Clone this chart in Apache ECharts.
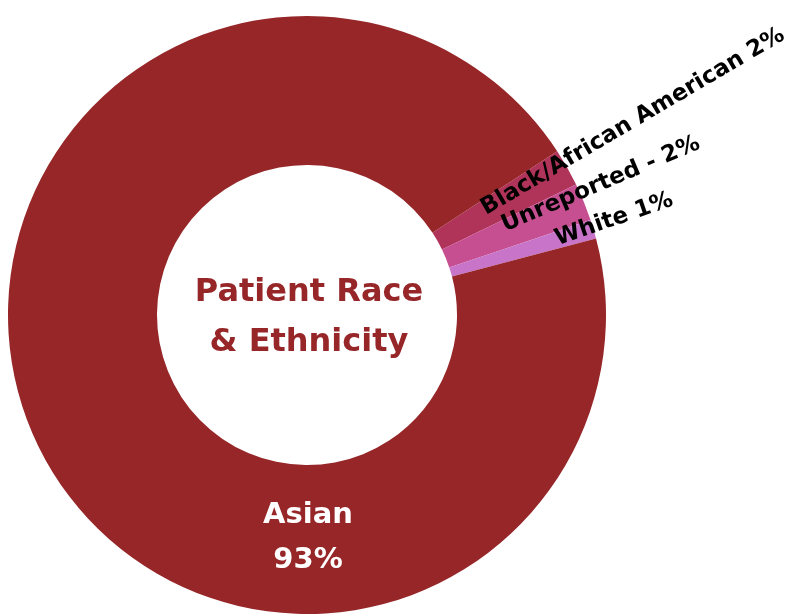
<!DOCTYPE html>
<html>
<head>
<meta charset="utf-8">
<script src="https://cdn.jsdelivr.net/npm/echarts@6/dist/echarts.min.js"></script>
<style>
html,body{margin:0;padding:0;background:#fff;}
#chart{width:804px;height:614px;}
</style>
</head>
<body>
<div id="chart"></div>
<script>
// ---- data ----
const categories = ['Black/African American', 'Unreported', 'White', 'Asian'];
const values = [2, 2, 1, 93];
const labelTexts = ['Black/African American 2%', 'Unreported - 2%', 'White 1%', 'Asian\n93%'];
const centerTitle = ['Patient Race', '& Ethnicity'];

// ---- styles / layout ----
const colors = ['#b0335a', '#c64f92', '#c874c9', '#962628'];
const FONT = '"DejaVu Sans", Inter, sans-serif';
const CX = 307, CY = 315, R_IN = 150, R_OUT = 299;
const START = 33.2;
// per-label placement for the small slices: radius, angle shift from slice mid, rotation
const labelPlace = [
  { r: 205, da: 1.3, rot: 30.5 },
  { r: 215, da: 2.3, rot: 23 },
  { r: 260, da: 0.2, rot: 19 }
];
const asianLabelPos = { x: 308, y: 538 };

const total = values.reduce((a, b) => a + b, 0);
function midAngle(i) {
  let acc = 0;
  for (let k = 0; k < i; k++) acc += values[k];
  return START - (acc + values[i] / 2) / total * 360;
}

const chart = echarts.init(document.getElementById('chart'));
chart.setOption({
  backgroundColor: '#ffffff',
  animation: false,
  graphic: [{
    type: 'text',
    x: CX + 2, y: CY + 3,
    style: {
      text: centerTitle.join('\n'),
      align: 'center', verticalAlign: 'middle',
      textAlign: 'center', textVerticalAlign: 'middle',
      fill: '#962628',
      font: 'bold 32px ' + FONT,
      lineHeight: 50
    }
  }],
  series: [{
    type: 'pie',
    center: [CX, CY],
    radius: [R_IN, R_OUT],
    startAngle: START,
    clockwise: true,
    avoidLabelOverlap: false,
    silent: true,
    labelLine: { show: false },
    data: categories.map((c, i) => ({
      name: c,
      value: values[i],
      itemStyle: { color: colors[i] },
      label: {
        show: true,
        position: 'inside',
        formatter: labelTexts[i],
        color: i === 3 ? '#ffffff' : '#000000',
        fontFamily: FONT,
        fontWeight: 'bold',
        fontSize: i === 3 ? 29 : 23,
        lineHeight: i === 3 ? 45 : 26
      }
    })),
    labelLayout: function (p) {
      const i = p.dataIndex;
      if (i === 3) {
        return { x: asianLabelPos.x, y: asianLabelPos.y, align: 'center', verticalAlign: 'middle', rotate: 0 };
      }
      const pl = labelPlace[i];
      const a = (midAngle(i) + pl.da) * Math.PI / 180;
      return {
        x: CX + pl.r * Math.cos(a),
        y: CY - pl.r * Math.sin(a),
        align: 'left', verticalAlign: 'middle',
        rotate: pl.rot
      };
    }
  }]
});
</script>
</body>
</html>
